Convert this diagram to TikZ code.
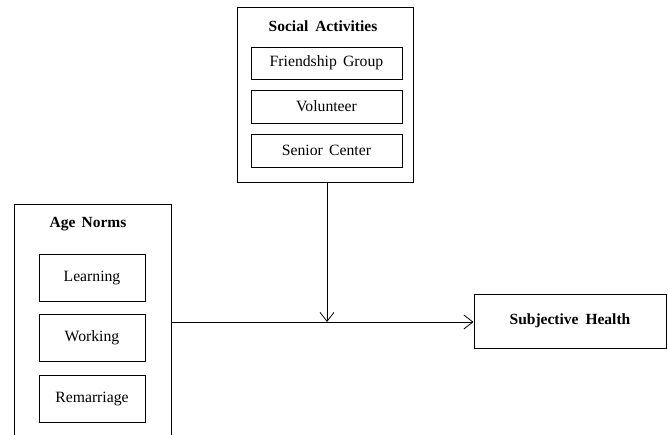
\documentclass[tikz,border=0pt]{standalone}
\usepackage{fontspec}
\setmainfont{Liberation Serif}
\usetikzlibrary{arrows.meta,calc}
\tikzset{
  outerbox/.style={draw, line width=1pt, inner sep=0pt},
  innerbox/.style={draw, line width=0.8pt, inner sep=0pt, font=\fontsize{15.7}{18}\selectfont},
  ttl/.style={font=\fontsize{15.5}{18}\selectfont\bfseries, inner sep=0pt},
  arr/.style={line width=0.8pt, -{Straight Barb[length=9pt,width=14pt,line width=0.8pt]}}
}
\begin{document}
\begin{tikzpicture}[x=1pt,y=-1pt]
\useasboundingbox (0,0) rectangle (668,435);
% Social Activities
\node[outerbox, minimum width=176pt, minimum height=175pt] (SA) at (325,95.5) {};
\node[ttl] (SAt) at (323,26.5) {Social\hspace{0.45em}Activities};
\node[innerbox, minimum width=151pt, minimum height=32pt] (FG) at (326.5,63) {Friendship\hspace{0.4em}Group};
\node[innerbox, minimum width=151pt, minimum height=33pt] (VO) at (326.5,106.5) {Volunteer};
\node[innerbox, minimum width=151pt, minimum height=33pt] (SC) at (326.5,150.5) {Senior\hspace{0.4em}Center};
% Age Norms (open at the bottom edge)
\coordinate (ANbl) at (14,435);
\coordinate (ANtl) at (14,205);
\coordinate (ANtr) at (171,205);
\coordinate (ANbr) at (171,435);
\draw[line width=1pt] (ANbl) -- (ANtl) -- (ANtr) -- (ANbr);
\node[ttl] (ANt) at (88,224) {Age\hspace{0.4em}Norms};
\node[innerbox, minimum width=106pt, minimum height=47pt] (LE) at (92,277.5) {Learning};
\node[innerbox, minimum width=106pt, minimum height=47pt] (WO) at (92,337.5) {Working};
\node[innerbox, minimum width=106pt, minimum height=47pt] (RE) at (92,398.5) {Remarriage};
% Subjective Health
\node[outerbox, minimum width=192pt, minimum height=54pt, font=\fontsize{15.5}{18}\selectfont\bfseries] (SH) at (570,321) {Subjective\hspace{0.45em}Health};
% connectors
\coordinate (J) at (327,322);
\coordinate (ANr) at (171,322);
\draw[arr] (SA.south -| J) -- (J);
\draw[arr] (ANr) -- (SH.west |- ANr);
\end{tikzpicture}
\end{document}
